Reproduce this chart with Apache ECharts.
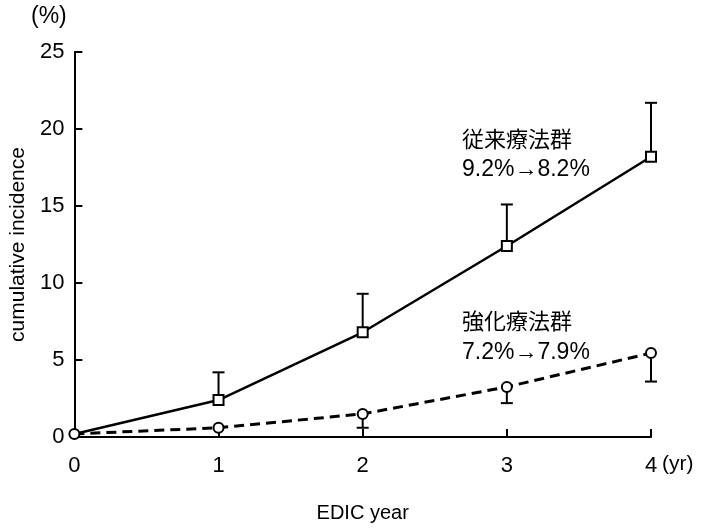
<!DOCTYPE html>
<html>
<head>
<meta charset="utf-8">
<script src="https://cdn.jsdelivr.net/npm/echarts@6/dist/echarts.min.js"></script>
<style>
    html, body {margin: 0; padding: 0; background: #fff;}
    #chart {width: 705px; height: 531px;}
</style>
</head>
<body>
<div id="chart"></div>
<script>
// EDIC year
const years = [0, 1, 2, 3, 4]
// 従来療法群 (squares, solid)
const convValues = [0.2, 2.4, 6.8, 12.4, 18.2]
const convUpper = [null, 4.2, 9.3, 15.1, 21.7]
// 強化療法群 (circles, dashed)
const intValues = [0.2, 0.6, 1.5, 3.25, 5.45]
const intLower = [null, null, 0.6, 2.2, 3.6]
const yTicks = [0, 5, 10, 15, 20, 25]

const font = '"Liberation Sans", Arial, sans-serif'
const jpFont = '"Noto Sans CJK JP", sans-serif'

function pairs (xs, ys) {
    return xs.map((x, i) => [x, ys[i]])
}

// error bar: from value to bound, with a cap
function errorBar (params, api) {
    const p0 = api.coord([api.value(0), api.value(1)])
    const p1 = api.coord([api.value(0), api.value(2)])
    const half = 6
    const style = {stroke: '#000', lineWidth: 2}
    return {
        type: 'group',
        children: [
            {type: 'line', shape: {x1: p0[0], y1: p0[1], x2: p1[0], y2: p1[1]}, style: style},
            {type: 'line', shape: {x1: p1[0] - half, y1: p1[1], x2: p1[0] + half, y2: p1[1]}, style: style}
        ]
    }
}

const convBars = []
const intBars = []
years.forEach((x, i) => {
    if (convUpper[i] !== null) convBars.push([x, convValues[i], convUpper[i]])
    if (intLower[i] !== null) intBars.push([x, intValues[i], intLower[i]])
})

const chart = echarts.init(document.getElementById('chart'))
const option = {
    backgroundColor: '#fff',
    animation: false,
    grid: {left: 72, right: 54, top: 52, bottom: 94},
    xAxis: {
        type: 'value',
        min: 0,
        max: 4,
        interval: 1,
        name: 'EDIC year',
        nameLocation: 'middle',
        nameGap: 66,
        nameTextStyle: {fontFamily: font, fontSize: 20, color: '#000'},
        axisLine: {lineStyle: {color: '#000', width: 2}},
        axisTick: {inside: true, length: 8, lineStyle: {color: '#000', width: 2}},
        axisLabel: {fontFamily: font, fontSize: 22, color: '#000', margin: 18},
        splitLine: {show: false}
    },
    yAxis: {
        type: 'value',
        min: 0,
        max: 25,
        interval: 5,
        name: 'cumulative incidence',
        nameLocation: 'middle',
        nameGap: 37,
        nameTextStyle: {fontFamily: font, fontSize: 21, color: '#000'},
        axisLine: {lineStyle: {color: '#000', width: 2}},
        axisTick: {inside: true, length: 8, lineStyle: {color: '#000', width: 2}},
        axisLabel: {
            fontFamily: font, fontSize: 22, color: '#000', margin: 10,
            formatter: v => yTicks.includes(v) ? String(v) : ''
        },
        splitLine: {show: false}
    },
    graphic: [
        {type: 'text', left: 31, top: 5, style: {text: '(%)', font: '23px ' + font, fill: '#000'}},
        {type: 'text', left: 662, top: 454, style: {text: '(yr)', font: '21px ' + font, fill: '#000'}},
        {type: 'text', left: 462, top: 128, style: {text: '従来療法群', font: '22px ' + jpFont, fill: '#000'}},
        {type: 'text', left: 462, top: 158, style: {text: '9.2%→8.2%', font: '23px ' + font, fill: '#000'}},
        {type: 'text', left: 462, top: 310, style: {text: '強化療法群', font: '22px ' + jpFont, fill: '#000'}},
        {type: 'text', left: 462, top: 341, style: {text: '7.2%→7.9%', font: '23px ' + font, fill: '#000'}}
    ],
    series: [
        { // 従来療法群 error bars
            type: 'custom',
            renderItem: errorBar,
            data: convBars,
            z: 2
        },
        { // 強化療法群 error bars
            type: 'custom',
            renderItem: errorBar,
            data: intBars,
            z: 2
        },
        { // 従来療法群
            type: 'line',
            data: pairs(years, convValues).map((d, i) => i === 0 ? {value: d, symbol: 'none'} : d),
            symbol: 'rect',
            symbolSize: 10,
            showSymbol: true,
            lineStyle: {color: '#000', width: 2.5},
            itemStyle: {color: '#fff', borderColor: '#000', borderWidth: 2},
            z: 3
        },
        { // 強化療法群
            type: 'line',
            data: pairs(years, intValues),
            symbol: 'circle',
            symbolSize: 10,
            showSymbol: true,
            lineStyle: {color: '#000', width: 3, type: [10, 6]},
            itemStyle: {color: '#fff', borderColor: '#000', borderWidth: 2},
            z: 4
        }
    ]
}
chart.setOption(option)
</script>
</body>
</html>
